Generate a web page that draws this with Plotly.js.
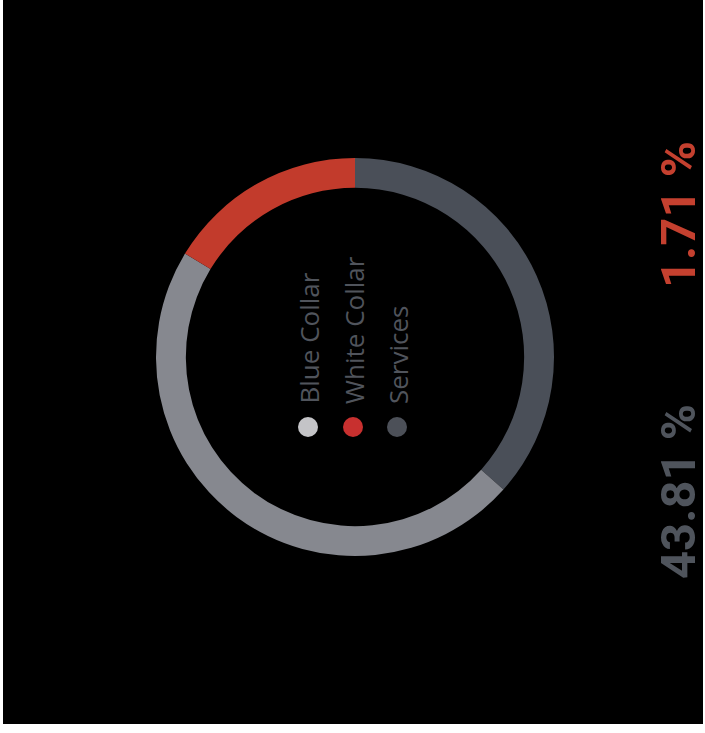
<!DOCTYPE html>
<html>
<head>
<meta charset="utf-8">
<script src="https://cdn.plot.ly/plotly-3.0.1.min.js"></script>
<style>
html,body{margin:0;padding:0;background:#ffffff;}
#chart{position:absolute;left:3px;top:0;width:700px;height:724px;}
</style>
</head>
<body>
<div id="chart"></div>
<script>
// Data
const categories = ["Services", "Blue Collar", "White Collar"];
const shares = [36.6, 47.1, 16.3];
const legendOrder = ["Blue Collar", "White Collar", "Services"];
const bigLabels = ["1.71 %", "43.81 %"];

// Styles
const ringColors = {"Services": "#4a4f58", "Blue Collar": "#86888f", "White Collar": "#c23b2c"};
const dotColors = {"Blue Collar": "#c4c4c7", "White Collar": "#c8302f", "Services": "#4c5058"};
const bigColors = ["#c4402f", "#4f545c"];

const W = 700, H = 724, OX = 3;
const px = x => (x - OX) / W;
const py = y => 1 - y / H;

const cx = 355, cy = 357, R = 199;

const trace = {
  type: "pie",
  labels: categories,
  values: shares,
  hole: 0.85,
  sort: false,
  direction: "clockwise",
  rotation: 0,
  textinfo: "none",
  hoverinfo: "label+percent",
  marker: {colors: categories.map(c => ringColors[c]), line: {width: 0}},
  domain: {x: [px(cx - R), px(cx + R)], y: [py(cy + R), py(cy - R)]},
  showlegend: false
};

const legendX = [308, 353, 397];
const annotations = [];
const shapes = [];
legendOrder.forEach((name, i) => {
  annotations.push({
    text: name, xref: "paper", yref: "paper",
    x: px(legendX[i] + 1), y: py(406), xanchor: "center", yanchor: "bottom",
    textangle: -90, showarrow: false,
    font: {family: "Open Sans, sans-serif", size: 26, color: "#50545c"}
  });
  const r = 10;
  shapes.push({
    type: "circle", xref: "paper", yref: "paper",
    x0: px(legendX[i] - r), x1: px(legendX[i] + r),
    y0: py(427 + r), y1: py(427 - r),
    fillcolor: dotColors[name], line: {width: 0}
  });
});

const bigY = [215, 492];
bigLabels.forEach((t, i) => {
  annotations.push({
    text: t, xref: "paper", yref: "paper",
    x: px(678), y: py(bigY[i]), xanchor: "center", yanchor: "middle",
    textangle: -90, showarrow: false,
    font: {family: "Roboto, sans-serif", size: 49, weight: "bold", color: bigColors[i]}
  });
});

const layout = {
  width: W, height: H,
  margin: {l: 0, r: 0, t: 0, b: 0},
  paper_bgcolor: "#000000",
  annotations: annotations,
  shapes: shapes
};

Plotly.newPlot("chart", [trace], layout, {displayModeBar: false});
</script>
</body>
</html>
